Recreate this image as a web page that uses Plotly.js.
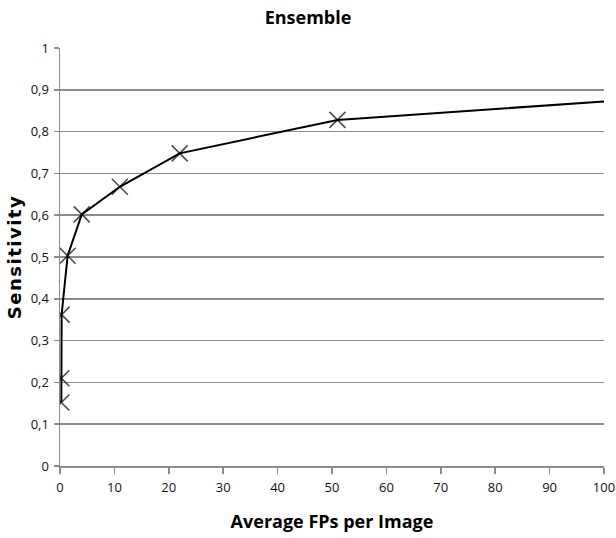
<!DOCTYPE html>
<html>
<head>
<meta charset="utf-8">
<script src="https://cdn.plot.ly/plotly-3.0.1.min.js"></script>
<style>
html,body{margin:0;padding:0;background:#fff;}
#chart{width:616px;height:538px;}
#chart .ytitle{letter-spacing:1.5px;}
</style>
</head>
<body>
<div id="chart"></div>
<script>
// Data
const fpsPerImage = [0.25, 0.25, 0.3, 1.4, 4.0, 11.0, 22.0, 51.0, 100];
const sensitivity = [0.152, 0.21, 0.362, 0.503, 0.602, 0.668, 0.748, 0.828, 0.872];
const hasMarker   = [true, true, true, true, true, true, true, true, false];

const titleText = 'Ensemble';
const xTitle = 'Average FPs per Image';
const yTitle = 'Sensitivity';

const sans = '"Open Sans", Arial, sans-serif';

const trace = {
  x: fpsPerImage,
  y: sensitivity,
  mode: 'lines+markers',
  type: 'scatter',
  line: {color: '#000', width: 2},
  marker: {
    symbol: 'x-thin-open',
    size: hasMarker.map(h => h ? 16 : 0),
    color: '#000',
    line: {color: '#000', width: 1.6}
  },
  hoverinfo: 'x+y',
  showlegend: false
};

const layout = {
  width: 616,
  height: 538,
  margin: {l: 60, r: 12, t: 48, b: 72},
  paper_bgcolor: '#fff',
  plot_bgcolor: '#fff',
  separators: ', ',
  title: {
    text: '<b>' + titleText + '</b>',
    font: {family: sans, size: 18, color: '#000'},
    x: 0.5, xanchor: 'center',
    y: 0.968, yanchor: 'middle'
  },
  xaxis: {
    range: [0, 100],
    dtick: 10,
    tick0: 0,
    showgrid: false,
    zeroline: false,
    showline: true,
    linecolor: '#8c8c8c',
    linewidth: 1.5,
    ticks: 'outside',
    ticklen: 6,
    tickcolor: '#8c8c8c',
    tickwidth: 1.5,
    ticklabelstandoff: 3,
    tickfont: {family: sans, size: 13, color: '#111'},
    title: {text: '<b>' + xTitle + '</b>', font: {family: sans, size: 18, color: '#000'}, standoff: 20},
    automargin: false,
    fixedrange: true
  },
  yaxis: {
    range: [0, 1],
    dtick: 0.1,
    tick0: 0,
    showgrid: true,
    gridcolor: '#8c8c8c',
    gridwidth: 1.5,
    zeroline: false,
    showline: true,
    linecolor: '#8c8c8c',
    linewidth: 1.5,
    ticks: 'outside',
    ticklen: 5,
    tickcolor: '#8c8c8c',
    tickwidth: 1.5,
    ticklabelstandoff: 2,
    tickfont: {family: sans, size: 13, color: '#111'},
    title: {text: '<b>' + yTitle + '</b>', font: {family: '"DejaVu Sans", Verdana, sans-serif', size: 18, color: '#000'}, standoff: 4},
    fixedrange: true
  }
};

Plotly.newPlot('chart', [trace], layout, {displayModeBar: false, staticPlot: true});
</script>
</body>
</html>
